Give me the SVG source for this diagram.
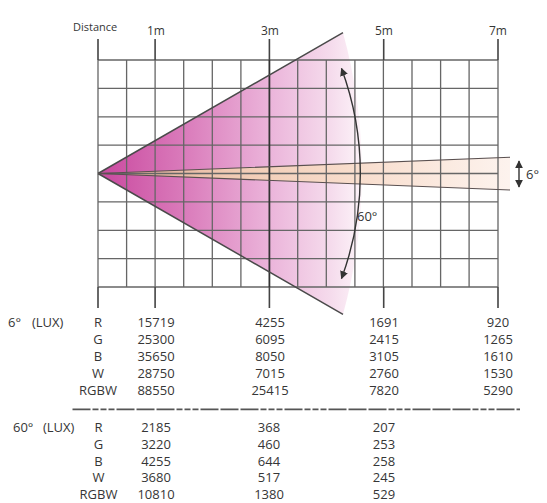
<svg xmlns="http://www.w3.org/2000/svg" width="547" height="503" viewBox="0 0 547 503">
<style>
.t{font-family:"Open Sans","Liberation Sans",sans-serif;fill:#363636}
.hd{font-size:11px}
.m{font-size:12px;text-anchor:middle}
.v{font-size:13px;text-anchor:middle}
.l{font-size:13px}
.g{stroke:#666;stroke-width:1.3;fill:none}
.tick{stroke:#444;stroke-width:1.6;fill:none}
.edge{stroke:#4a4a4a;stroke-width:1.5;fill:none}
.bedge{stroke:#5a5050;stroke-width:1.1;fill:none}
</style>
<defs>
<linearGradient id="coneG" x1="98" y1="0" x2="362" y2="0" gradientUnits="userSpaceOnUse">
<stop offset="0" stop-color="#c9479e"/>
<stop offset="0.35" stop-color="#db7fbd"/>
<stop offset="0.65" stop-color="#ebb4da"/>
<stop offset="0.88" stop-color="#f5dbec"/>
<stop offset="1" stop-color="#fdf4f9"/>
</linearGradient>
<linearGradient id="beamG" x1="98" y1="0" x2="510" y2="0" gradientUnits="userSpaceOnUse">
<stop offset="0" stop-color="#d9a08e"/>
<stop offset="0.3" stop-color="#f0c9b2"/>
<stop offset="0.6" stop-color="#f8dccb"/>
<stop offset="1" stop-color="#fdf3ee"/>
</linearGradient>
<marker id="ah" viewBox="0 0 10 10" refX="9" refY="5" markerWidth="8" markerHeight="8" markerUnits="userSpaceOnUse" orient="auto-start-reverse">
<path d="M0,0 L10,5 L0,10 Z" fill="#333"/>
</marker>
</defs>

<g id="beam60-fill">
<path d="M98,173.5 L343,32.7 A531,531 0 0 1 343,314.3 Z" fill="url(#coneG)"/>
</g>
<g id="beam6-fill">
<path d="M98,173.5 L510,157.3 L510,190 Z" fill="url(#beamG)"/>
</g>

<g id="grid">
<path class="g" d="M98,60V287M126.6,60V287M155.1,60V287M183.7,60V287M212.3,60V287M240.9,60V287M297.7,60V287M326.3,60V287M354.9,60V287M383.4,60V287M412,60V287M440.6,60V287M469.1,60V287M498,60V287"/>
<path class="g" d="M98,60H498M98,88.4H498M98,116.8H498M98,145.1H498M98,173.5H498M98,201.9H498M98,230.3H498M98,258.6H498M98,287H498"/>
<path d="M269.4,60V287" stroke="#333" stroke-width="1.8" fill="none"/>
</g>

<g id="ticks">
<path class="tick" d="M98,39V60M155.1,39V60M269.4,39V60M383.7,39V60M498,39V60"/>
<path class="tick" d="M98,287V308M155.1,287V308M269.4,287V308M383.7,287V308M498,287V308"/>
</g>

<g id="beam-edges">
<path class="edge" d="M98,173.5 L343,32.7 M98,173.5 L343,314.3"/>
<path class="bedge" d="M98,173.5 L510,157.3 M98,173.5 L510,190"/>
</g>

<g id="axis-labels">
<text class="t hd" x="73" y="31">Distance</text>
<text class="t m" x="156" y="35">1m</text>
<text class="t m" x="270" y="35">3m</text>
<text class="t m" x="384" y="35">5m</text>
<text class="t m" x="498" y="35">7m</text>
</g>

<g id="connectors">
<path d="M341.5,68.5 A302,302 0 0 1 341.5,278.5" stroke="#333" stroke-width="1.4" fill="none" marker-start="url(#ah)" marker-end="url(#ah)"/>
<path d="M519,161 L519,187" stroke="#333" stroke-width="1.4" fill="none" marker-start="url(#ah)" marker-end="url(#ah)"/>
</g>

<g id="angle-labels">
<text class="t l" x="357" y="221">60°</text>
<text class="t l" x="526" y="179">6°</text>
</g>

<g id="table-6">
<text class="t l" x="8" y="327">6°</text>
<text class="t l" x="32" y="327">(LUX)</text>
<text class="t v" x="98" y="327">R</text>
<text class="t v" x="98" y="344">G</text>
<text class="t v" x="98" y="361">B</text>
<text class="t v" x="98" y="378">W</text>
<text class="t v" x="98" y="394.5">RGBW</text>
<text class="t v" x="156" y="327">15719</text>
<text class="t v" x="156" y="344">25300</text>
<text class="t v" x="156" y="361">35650</text>
<text class="t v" x="156" y="378">28750</text>
<text class="t v" x="156" y="394.5">88550</text>
<text class="t v" x="270" y="327">4255</text>
<text class="t v" x="270" y="344">6095</text>
<text class="t v" x="270" y="361">8050</text>
<text class="t v" x="270" y="378">7015</text>
<text class="t v" x="270" y="394.5">25415</text>
<text class="t v" x="384" y="327">1691</text>
<text class="t v" x="384" y="344">2415</text>
<text class="t v" x="384" y="361">3105</text>
<text class="t v" x="384" y="378">2760</text>
<text class="t v" x="384" y="394.5">7820</text>
<text class="t v" x="498" y="327">920</text>
<text class="t v" x="498" y="344">1265</text>
<text class="t v" x="498" y="361">1610</text>
<text class="t v" x="498" y="378">1530</text>
<text class="t v" x="498" y="394.5">5290</text>
</g>

<g id="separator">
<path d="M72.5,409.3 H520" stroke="#555" stroke-width="1.8" fill="none" stroke-dasharray="18 2 6 2 6 2 6 2 18 2 18 2 18 2 6 2 6 2 6 2 18 2 18 2 18 2 6 2 6 2 6 2"/>
</g>

<g id="table-60">
<text class="t l" x="13" y="432">60°</text>
<text class="t l" x="43" y="432">(LUX)</text>
<text class="t v" x="98.5" y="432">R</text>
<text class="t v" x="98.5" y="449">G</text>
<text class="t v" x="98.5" y="465.5">B</text>
<text class="t v" x="98.5" y="482">W</text>
<text class="t v" x="98.5" y="498.5">RGBW</text>
<text class="t v" x="156" y="432">2185</text>
<text class="t v" x="156" y="449">3220</text>
<text class="t v" x="156" y="465.5">4255</text>
<text class="t v" x="156" y="482">3680</text>
<text class="t v" x="156" y="498.5">10810</text>
<text class="t v" x="269" y="432">368</text>
<text class="t v" x="269" y="449">460</text>
<text class="t v" x="269" y="465.5">644</text>
<text class="t v" x="269" y="482">517</text>
<text class="t v" x="269" y="498.5">1380</text>
<text class="t v" x="384" y="432">207</text>
<text class="t v" x="384" y="449">253</text>
<text class="t v" x="384" y="465.5">258</text>
<text class="t v" x="384" y="482">245</text>
<text class="t v" x="384" y="498.5">529</text>
</g>
</svg>
